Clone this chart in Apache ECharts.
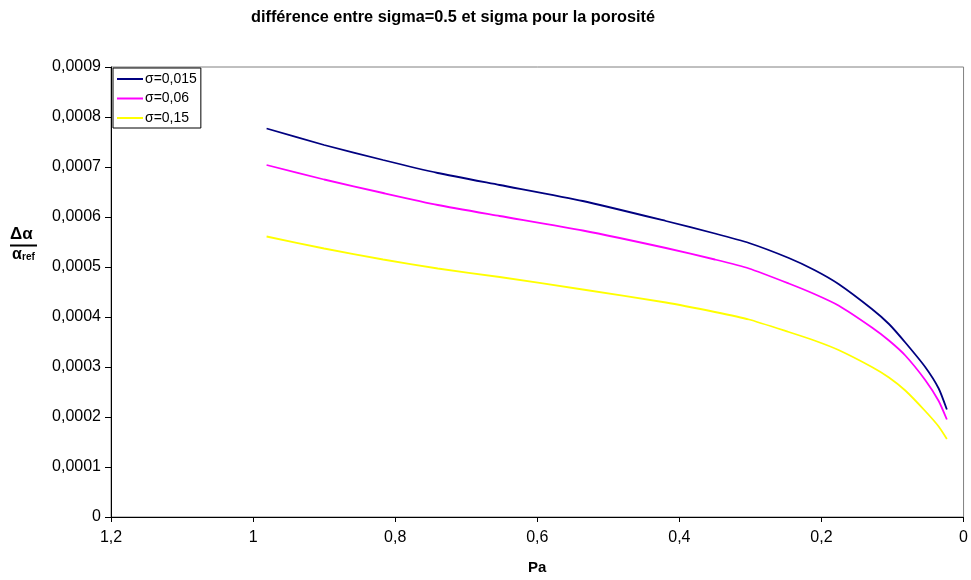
<!DOCTYPE html>
<html>
<head>
<meta charset="utf-8">
<script src="https://cdn.jsdelivr.net/npm/echarts@6/dist/echarts.min.js"></script>
<style>
html,body{margin:0;padding:0;background:#fff;}
#chart{width:971px;height:580px;}
</style>
</head>
<body>
<div id="chart"></div>
<script>
var titleText = 'différence entre sigma=0.5 et sigma pour la porosité';
var seriesNames = ['σ=0,015', 'σ=0,06', 'σ=0,15'];
var pressure = [0.981, 0.90, 0.817, 0.74, 0.653, 0.536, 0.419, 0.35, 0.302, 0.246, 0.21, 0.176, 0.129, 0.105, 0.082, 0.054, 0.035, 0.0235];
var sigma015 = [0.000777, 0.000744, 0.000714, 0.000688, 0.000664, 0.000632, 0.000592, 0.000567, 0.000548, 0.000518, 0.000494, 0.000466, 0.000416, 0.000386, 0.000349, 0.000300, 0.000257, 0.000215];
var sigma06  = [0.000704, 0.000675, 0.000648, 0.000624, 0.000602, 0.000573, 0.000538, 0.000515, 0.000497, 0.000467, 0.000446, 0.000423, 0.000379, 0.000353, 0.000323, 0.000274, 0.000232, 0.000195];
var sigma15  = [0.000561, 0.000537, 0.000515, 0.000497, 0.000480, 0.000455, 0.000429, 0.000410, 0.000395, 0.000370, 0.000353, 0.000334, 0.000300, 0.000279, 0.000253, 0.000212, 0.000181, 0.000156];
var colors = ['#000080', '#FF00FF', '#FFFF00'];

function pairs(xs, ys) { return xs.map(function (x, i) { return [x, ys[i]]; }); }

var FONT = 'Liberation Sans, Arial, sans-serif';
var chart = echarts.init(document.getElementById('chart'), null, {renderer: 'canvas'});
var allData = [sigma015, sigma06, sigma15];
var option = {
  animation: false,
  backgroundColor: '#ffffff',
  title: {
    text: titleText,
    left: 246, top: 5,
    textStyle: {fontFamily: FONT, fontWeight: 'bold', fontSize: 16.3, color: '#000'}
  },
  grid: {
    left: 111, right: 5, top: 67, bottom: 60,
    show: true, borderColor: '#808080', borderWidth: 1, backgroundColor: '#fff'
  },
  legend: {
    orient: 'vertical', left: 113, top: 68,
    data: seriesNames,
    backgroundColor: '#fff', borderColor: '#000', borderWidth: 1,
    padding: [3, 4, 2, 4],
    itemWidth: 26, itemHeight: 2, itemGap: 3.5,
    icon: 'rect',
    textStyle: {fontFamily: FONT, fontSize: 14, color: '#000', lineHeight: 16, padding: [0, 0, 0, -3]}
  },
  xAxis: {
    type: 'value', inverse: true, min: 0, max: 1.2, interval: 0.2,
    name: 'Pa', nameLocation: 'middle', nameGap: 43,
    nameTextStyle: {fontFamily: FONT, fontWeight: 'bold', fontSize: 15, color: '#000'},
    axisLine: {show: true, onZero: false, lineStyle: {color: '#000', width: 1}},
    axisTick: {show: true, inside: false, length: 5, lineStyle: {color: '#000'}},
    axisLabel: {
      margin: 13, color: '#000', fontFamily: FONT, fontSize: 16,
      formatter: function (v) { return String(Math.round(v * 10) / 10).replace('.', ','); }
    },
    splitLine: {show: false}
  },
  yAxis: {
    type: 'value', min: 0, max: 0.0009, interval: 0.0001,
    axisLine: {show: true, onZero: false, lineStyle: {color: '#000', width: 1}},
    axisTick: {show: true, inside: false, length: 6, lineStyle: {color: '#000'}},
    axisLabel: {
      margin: 10, color: '#000', fontFamily: FONT, fontSize: 16,
      formatter: function (v) { return v === 0 ? '0' : v.toFixed(4).replace('.', ','); }
    },
    splitLine: {show: false}
  },
  graphic: [
    {type: 'text', left: 10, top: 226, style: {text: 'Δα', font: 'bold 17px ' + FONT, fill: '#000'}},
    {type: 'line', shape: {x1: 10, y1: 245.5, x2: 37, y2: 245.5}, style: {stroke: '#000', lineWidth: 2}},
    {type: 'text', left: 12, top: 247, style: {text: 'α', font: 'bold 16px ' + FONT, fill: '#000'}},
    {type: 'text', left: 22, top: 252, style: {text: 'ref', font: 'bold 10px ' + FONT, fill: '#000'}}
  ],
  series: seriesNames.map(function (n, i) {
    return {
      name: n, type: 'line', data: pairs(pressure, allData[i]),
      showSymbol: false, symbol: 'none', smooth: 0.2,
      lineStyle: {color: colors[i], width: 1.8},
      itemStyle: {color: colors[i]}
    };
  })
};
chart.setOption(option);
</script>
</body>
</html>
